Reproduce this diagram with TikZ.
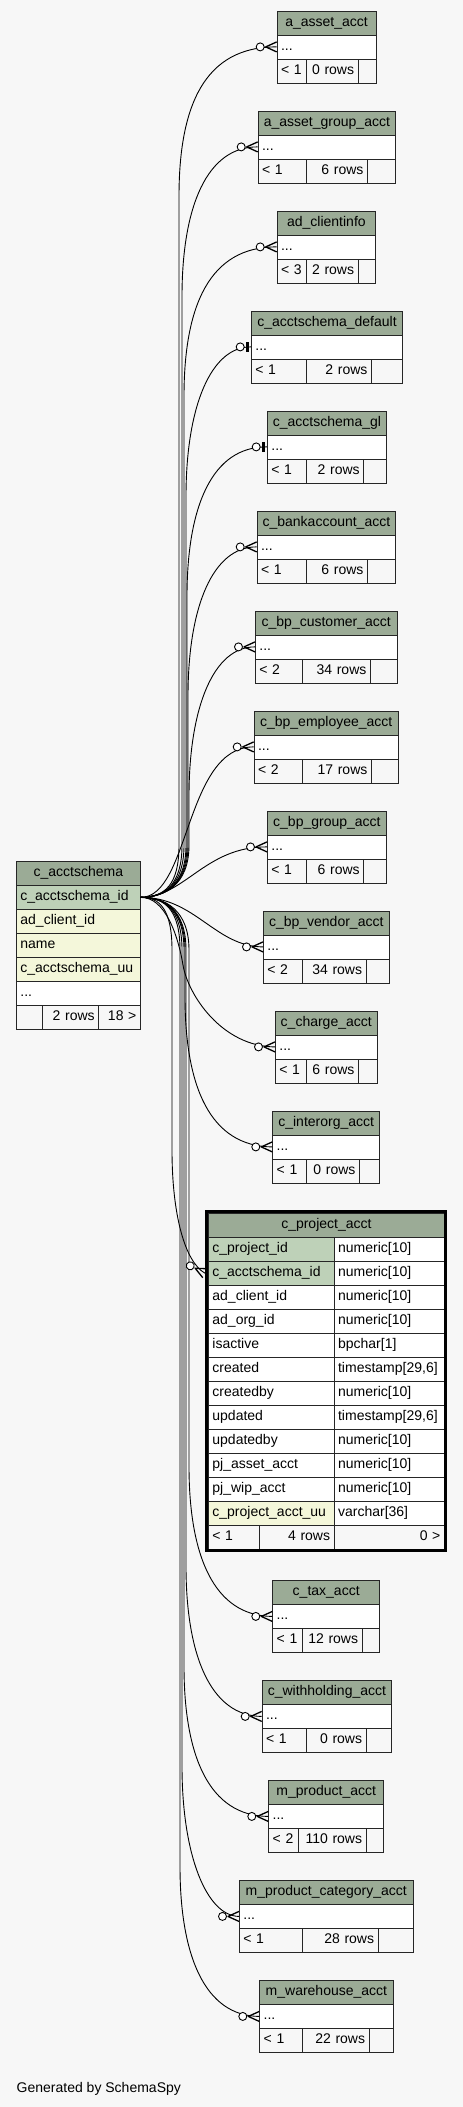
\documentclass[tikz,border=0pt]{standalone}
\usepackage{fontspec}
\setmainfont{Liberation Sans}
\hyphenpenalty=10000
\exhyphenpenalty=10000
\definecolor{bg}{HTML}{F7F7F7}
\definecolor{hdr}{HTML}{9BAB96}
\definecolor{pk}{HTML}{BED1B8}
\definecolor{idx}{HTML}{F4F7DA}
\newcommand\cellfont{\fontsize{14}{16}\selectfont}
\tikzset{
  cw/.code={\pgfmathsetlengthmacro\tmpmw{#1}\pgfmathsetlengthmacro\tmptw{#1-8}%
    \edef\tmpcw{\noexpand\pgfkeysalso{minimum width=\tmpmw,text width=\tmptw}}\tmpcw},
  cell/.style={draw=black!85, line width=0.8pt, anchor=north west, minimum height=24pt,
    inner xsep=4pt, inner ysep=0pt, text height=10pt, text depth=3.5pt, font=\cellfont, align=left},
  hdrcell/.style={cell, fill=hdr, align=center},
  wcell/.style={cell, fill=white},
  fcell/.style={cell, fill=bg},
  conn/.style={draw=black, line width=0.9pt},
}
\newcommand\stbl[9]{%
  \pgfmathsetmacro\tW{#3-#2}\pgfmathsetmacro\tWa{#5-#2}\pgfmathsetmacro\tWb{#6-#5}\pgfmathsetmacro\tWc{#3-#6}%
  \pgfmathsetmacro\tYa{#4+24}\pgfmathsetmacro\tYb{#4+48}%
  \node[hdrcell, cw=\tW] (#1) at (#2,#4) {#7};
  \node[wcell, cw=\tW] (#1-dots) at (#2,\tYa) {...};
  \node[fcell, cw=\tWa] (#1-f1) at (#2,\tYb) {#8};
  \node[fcell, cw=\tWb, align=right] (#1-f2) at (#5,\tYb) {#9};
  \node[fcell, cw=\tWc] (#1-f3) at (#6,\tYb) {};
}
\newcommand\prow[5]{%
  \node[cell, fill=#3, cw=125.7] (#1) at (208,#2) {#4};
  \node[wcell, cw=110.3] (#1-t) at (333.7,#2) {#5};
}
\newcommand\crowat[2]{%
  \begin{scope}[shift={(#1)},rotate=#2]
    \draw[line width=1.3pt, line join=round] (0,-5) -- (-11,0) -- (0,5);
    \draw[line width=0.9pt, fill=white] (-16.5,0) circle (4pt);
  \end{scope}}
\newcommand\teeat[1]{%
  \begin{scope}[shift={(#1)}]
    \fill (-4.8,-5) rectangle (-2,5);
    \draw[line width=0.9pt, fill=white] (-10.8,0) circle (4pt);
  \end{scope}}
\begin{document}
\begin{tikzpicture}[x=1pt,y=-1pt]
\fill[bg] (0,0) rectangle (463,2107);
\useasboundingbox (0,0) rectangle (463,2107);

% parent table
\node[hdrcell, cw=124] (cas) at (16,861) {c\_acctschema};
\node[cell, fill=pk, cw=124] (cas-id) at (16,885) {c\_acctschema\_id};
\node[cell, fill=idx, cw=124] (cas-client) at (16,909) {ad\_client\_id};
\node[cell, fill=idx, cw=124] (cas-name) at (16,933) {name};
\node[cell, fill=idx, cw=124] (cas-uu) at (16,957) {c\_acctschema\_uu};
\node[wcell, cw=124] (cas-dots) at (16,981) {...};
\node[fcell, cw=25.7] (cas-f1) at (16,1005) {};
\node[fcell, cw=56.6, align=right] (cas-f2) at (41.7,1005) {2~rows};
\node[fcell, cw=41.7, align=right] (cas-f3) at (98.3,1005) {18~>};

% child tables
\stbl{t0}{276.7}{375.7}{10.5}{306}{357.7}{a\_asset\_acct}{<~1}{0~rows}
\stbl{t1}{257.7}{395.3}{110.5}{305.7}{367}{a\_asset\_group\_acct}{<~1}{6~rows}
\stbl{t2}{276.7}{375.3}{210.5}{305.7}{357.7}{ad\_clientinfo}{<~3}{2~rows}
\stbl{t3}{251}{402.3}{310.5}{305.7}{371}{c\_acctschema\_default}{<~1}{2~rows}
\stbl{t4}{267}{386}{410.5}{305.7}{363.3}{c\_acctschema\_gl}{<~1}{2~rows}
\stbl{t5}{256.7}{395.3}{510.5}{305.7}{367}{c\_bankaccount\_acct}{<~1}{6~rows}
\stbl{t6}{255}{396.7}{610.5}{302}{370}{c\_bp\_customer\_acct}{<~2}{34~rows}
\stbl{t7}{253.7}{398}{710.5}{302}{371}{c\_bp\_employee\_acct}{<~2}{17~rows}
\stbl{t8}{267}{386}{810.5}{305.7}{363.3}{c\_bp\_group\_acct}{<~1}{6~rows}
\stbl{t9}{263}{388.7}{910.5}{302}{365.7}{c\_bp\_vendor\_acct}{<~2}{34~rows}
\stbl{t10}{275}{376.7}{1010.5}{305.7}{358}{c\_charge\_acct}{<~1}{6~rows}
\stbl{t11}{272.3}{379.3}{1110.5}{305.7}{359}{c\_interorg\_acct}{<~1}{0~rows}
\stbl{t12}{272.3}{379.3}{1580}{301.7}{361.7}{c\_tax\_acct}{<~1}{12~rows}
\stbl{t13}{261.7}{391.3}{1680}{305.7}{365.7}{c\_withholding\_acct}{<~1}{0~rows}
\stbl{t14}{268.3}{383.3}{1780}{297.7}{365.7}{m\_product\_acct}{<~2}{110~rows}
\stbl{t15}{239}{412.7}{1880}{301.7}{377.7}{m\_product\_category\_acct}{<~1}{28~rows}
\stbl{t16}{259.3}{392.7}{1980}{301.7}{368.7}{m\_warehouse\_acct}{<~1}{22~rows}

% focal table c_project_acct
\node[hdrcell, cw=236, minimum height=24.3pt] (cpa) at (208,1212.5) {c\_project\_acct};
\prow{cpa-pid}{1236.8}{pk}{c\_project\_id}{numeric[10]}
\prow{cpa-id}{1260.8}{pk}{c\_acctschema\_id}{numeric[10]}
\prow{cpa-client}{1284.8}{white}{ad\_client\_id}{numeric[10]}
\prow{cpa-org}{1308.8}{white}{ad\_org\_id}{numeric[10]}
\prow{cpa-active}{1332.8}{white}{isactive}{bpchar[1]}
\prow{cpa-created}{1356.8}{white}{created}{timestamp[29,6]}
\prow{cpa-createdby}{1380.8}{white}{createdby}{numeric[10]}
\prow{cpa-updated}{1404.8}{white}{updated}{timestamp[29,6]}
\prow{cpa-updatedby}{1428.8}{white}{updatedby}{numeric[10]}
\prow{cpa-asset}{1452.8}{white}{pj\_asset\_acct}{numeric[10]}
\prow{cpa-wip}{1476.8}{white}{pj\_wip\_acct}{numeric[10]}
\prow{cpa-uu}{1500.8}{idx}{c\_project\_acct\_uu}{varchar[36]}
\node[fcell, cw=51] (cpa-f1) at (208,1524.8) {<~1};
\node[fcell, cw=74.7, align=right] (cpa-f2) at (259,1524.8) {4~rows};
\node[fcell, cw=110.3, align=right] (cpa-f3) at (333.7,1524.8) {0~>};
\draw[line width=3pt] (206.5,1211.2) rectangle (445.5,1550.7);
\coordinate (cpa-in) at ([xshift=-3pt]cpa-id.west);

% connectors
\draw[conn] (cas-id.east) .. controls (165,897) and (179,885) .. (179,845) -- (179,196.5) .. controls (179,106.5) and (204,46.5) .. (t0-dots.west);
\draw[conn] (cas-id.east) .. controls (165,897) and (182,885) .. (182,845) -- (182,296.5) .. controls (182,206.5) and (207,146.5) .. (t1-dots.west);
\draw[conn] (cas-id.east) .. controls (165,897) and (184,885) .. (184,845) -- (184,396.5) .. controls (184,306.5) and (209,246.5) .. (t2-dots.west);
\draw[conn] (cas-id.east) .. controls (165,897) and (186,885) .. (186,845) -- (186,496.5) .. controls (186,406.5) and (211,346.5) .. (t3-dots.west);
\draw[conn] (cas-id.east) .. controls (165,897) and (187,885) .. (187,845) -- (187,596.5) .. controls (187,506.5) and (212,446.5) .. (t4-dots.west);
\draw[conn] (cas-id.east) .. controls (165,897) and (188,885) .. (188,845) -- (188,696.5) .. controls (188,606.5) and (213,546.5) .. (t5-dots.west);
\draw[conn] (cas-id.east) .. controls (165,897) and (189,885) .. (189,845) -- (189,796.5) .. controls (189,706.5) and (214,646.5) .. (t6-dots.west);
\draw[conn] (cas-id.east) .. controls (190,897) and (185,746.5) .. (t7-dots.west);
\draw[conn] (cas-id.east) .. controls (185,897) and (205,846.5) .. (t8-dots.west);
\draw[conn] (cas-id.east) .. controls (195,897) and (215,946.5) .. (t9-dots.west);
\draw[conn] (cas-id.east) .. controls (165,897) and (178,935) .. (183,965) .. controls (188,995) and (222,1046.5) .. (t10-dots.west);
\draw[conn] (cas-id.east) .. controls (165,897) and (185,910) .. (185,950) -- (185,996.5) .. controls (185,1086.5) and (210,1146.5) .. (t11-dots.west);
\draw[conn] (cas-id.east) .. controls (160,897) and (172,910) .. (172,950) -- (172,1150) .. controls (172,1215) and (185,1262) .. (cpa-in);
\draw[conn] (cas-id.east) .. controls (165,897) and (189,910) .. (189,950) -- (189,1466) .. controls (189,1556) and (214,1616) .. (t12-dots.west);
\draw[conn] (cas-id.east) .. controls (165,897) and (186,910) .. (186,950) -- (186,1566) .. controls (186,1656) and (211,1716) .. (t13-dots.west);
\draw[conn] (cas-id.east) .. controls (165,897) and (184,910) .. (184,950) -- (184,1666) .. controls (184,1756) and (209,1816) .. (t14-dots.west);
\draw[conn] (cas-id.east) .. controls (165,897) and (182,910) .. (182,950) -- (182,1766) .. controls (182,1856) and (207,1916) .. (t15-dots.west);
\draw[conn] (cas-id.east) .. controls (165,897) and (180,910) .. (180,950) -- (180,1866) .. controls (180,1956) and (205,2016) .. (t16-dots.west);

% connector ends
\crowat{t0-dots.west}{0}
\crowat{t1-dots.west}{0}
\crowat{t2-dots.west}{0}
\teeat{t3-dots.west}
\teeat{t4-dots.west}
\crowat{t5-dots.west}{0}
\crowat{t6-dots.west}{0}
\crowat{t7-dots.west}{0}
\crowat{t8-dots.west}{0}
\crowat{t9-dots.west}{0}
\crowat{t10-dots.west}{0}
\crowat{t11-dots.west}{0}
\crowat{cpa-in}{-26.6}
\crowat{t12-dots.west}{0}
\crowat{t13-dots.west}{0}
\crowat{t14-dots.west}{0}
\crowat{t15-dots.west}{0}
\crowat{t16-dots.west}{0}

\node[anchor=base west, font=\cellfont, inner sep=0pt] (gen) at (16.5,2092) {Generated by SchemaSpy};
\end{tikzpicture}
\end{document}
